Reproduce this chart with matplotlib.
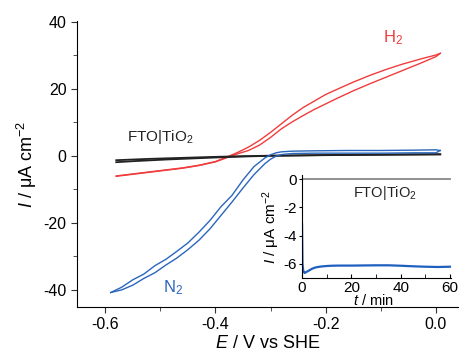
import matplotlib
matplotlib.use('Agg')
import matplotlib.pyplot as plt
from matplotlib.ticker import MultipleLocator

plt.rcParams['font.family'] = ['Liberation Sans', 'DejaVu Sans']
plt.rcParams['mathtext.fontset'] = 'custom'
plt.rcParams['mathtext.rm'] = 'Liberation Sans'
plt.rcParams['mathtext.it'] = 'Liberation Sans:italic'

# H2 cyclic voltammogram (two branches)
E_red = [-0.58, -0.55, -0.52, -0.49, -0.46, -0.43, -0.40, -0.38, -0.36, -0.34, -0.32,
         -0.30, -0.28, -0.26, -0.24, -0.22, -0.20, -0.18, -0.15, -0.12, -0.09, -0.06,
         -0.03, 0.0, 0.008]
I_red_fwd = [-6.1, -5.5, -4.9, -4.3, -3.7, -2.9, -1.8, -0.6, 0.6, 1.6, 3.2,
             5.5, 8.1, 10.2, 12.1, 13.9, 15.5, 17.1, 19.4, 21.5, 23.5, 25.5,
             27.5, 29.6, 30.6]
I_red_rev = [-6.0, -5.4, -4.8, -4.2, -3.6, -2.8, -1.7, -0.4, 1.0, 2.6, 4.6,
             7.0, 9.6, 12.2, 14.5, 16.4, 18.3, 19.8, 22.0, 24.0, 25.8, 27.4,
             28.8, 30.1, 30.6]

# FTO|TiO2 (dark)
E_blk = [-0.58, -0.55, -0.52, -0.49, -0.46, -0.43, -0.40, -0.35, -0.30, -0.20, -0.10, 0.0, 0.008]
I_blk_fwd = [-1.9, -1.6, -1.35, -1.1, -0.9, -0.7, -0.5, -0.2, 0.0, 0.2, 0.3, 0.4, 0.45]
I_blk_rev = [-1.3, -1.1, -0.9, -0.75, -0.6, -0.45, -0.3, -0.1, 0.05, 0.25, 0.4, 0.5, 0.45]

# N2 cyclic voltammogram (two branches)
E_blue = [-0.59, -0.57, -0.55, -0.53, -0.51, -0.49, -0.47, -0.45, -0.43, -0.41, -0.39,
          -0.37, -0.35, -0.33, -0.31, -0.30, -0.29, -0.28, -0.26, -0.22, -0.16, -0.10,
          -0.04, 0.0, 0.008]
I_blue_a = [-40.8, -39.2, -37.0, -35.3, -32.8, -30.9, -28.5, -26.0, -22.8, -19.3, -15.2,
            -11.8, -7.2, -3.2, -0.6, 0.3, 0.9, 1.2, 1.4, 1.5, 1.6, 1.6,
            1.7, 1.8, 1.6]
I_blue_b = [-40.8, -40.0, -38.6, -36.6, -34.9, -32.6, -30.5, -28.0, -25.2, -21.8, -17.8,
            -13.8, -9.6, -5.6, -2.3, -1.0, -0.1, 0.4, 0.7, 0.8, 0.8, 0.8,
            0.9, 0.9, 1.6]

# inset: photocurrent vs time
t_min = [0, 0.2, 0.5, 1, 1.5, 2, 3, 4, 5, 6, 8, 10, 12, 15, 20, 25, 30, 35, 40, 45, 50, 55, 60]
I_t = [-3.2, -6.0, -6.5, -6.64, -6.6, -6.55, -6.45, -6.35, -6.28, -6.23, -6.18, -6.15,
       -6.13, -6.12, -6.12, -6.11, -6.1, -6.1, -6.13, -6.17, -6.2, -6.22, -6.2]
t_dark = [0, 60]
I_dark = [0, 0]

red = '#f03c3c'
blue = '#2a66bd'

fig = plt.figure(figsize=(4.59, 3.59), dpi=100)
ax = fig.add_axes([0.168, 0.145, 0.832, 0.797])

ax.plot(E_red, I_red_fwd, color=red, lw=1.0)
ax.plot(E_red, I_red_rev, color=red, lw=1.0)
ax.plot(E_blk, I_blk_fwd, color='#222222', lw=1.3)
ax.plot(E_blk, I_blk_rev, color='#222222', lw=1.3)
ax.plot(E_blue, I_blue_a, color=blue, lw=1.0)
ax.plot(E_blue, I_blue_b, color=blue, lw=1.0)

ax.set_xlim(-0.651, 0.042)
ax.set_ylim(-45.1, 40.3)
ax.xaxis.set_minor_locator(MultipleLocator(0.1))
ax.yaxis.set_minor_locator(MultipleLocator(10))
ax.set_xticks([-0.6, -0.4, -0.2, 0.0])
ax.set_xticklabels(['-0.6', '-0.4', '-0.2', '0.0'])
ax.set_yticks([-40, -20, 0, 20, 40])
ax.set_yticklabels(['-40', '-20', '0', '20', '40'])
ax.spines['top'].set_visible(False)
ax.spines['right'].set_visible(False)
ax.tick_params(which='major', direction='out', length=4, labelsize=11.5, color='#333333')
ax.tick_params(which='minor', direction='out', length=3, color='#333333')
ax.set_xlabel(r'$\mathit{E}$ / V vs SHE', fontsize=13, labelpad=2)
ax.set_ylabel(r'$\mathit{I}$ / μA cm$^{-2}$', fontsize=13, labelpad=3)

ax.text(-0.078, 35.2, r'H$_2$', color=red, fontsize=12, ha='center', va='center')
ax.text(-0.5, 5.7, r'FTO|TiO$_2$', color='#222222', fontsize=11, ha='center', va='center')
ax.text(-0.476, -39.4, r'N$_2$', color=blue, fontsize=12, ha='center', va='center')

ins = fig.add_axes([0.658, 0.2256, 0.325, 0.287])
ins.plot(t_dark, I_dark, color='#888888', lw=1.3)
ins.plot(t_min, I_t, color='#1f5fbf', lw=1.6)
ins.set_xlim(0, 60.5)
ins.set_ylim(-7.0, 0.3)
ins.set_xticks([0, 20, 40, 60])
ins.xaxis.set_minor_locator(MultipleLocator(10))
ins.set_yticks([-6, -4, -2, 0])
ins.set_yticklabels(['-6', '-4', '-2', '0'])
ins.spines['top'].set_visible(False)
ins.spines['right'].set_visible(False)
ins.tick_params(axis='x', which='both', direction='in', length=3, labelsize=11, pad=2)
ins.tick_params(axis='y', which='both', direction='out', length=2.5, labelsize=11, pad=1)
ins.set_xlabel(r'$\mathit{t}$ / min', fontsize=10.5)
ins.xaxis.set_label_coords(0.48, -0.15)
ins.set_ylabel(r'$\mathit{I}$ / μA cm$^{-2}$', fontsize=11, labelpad=1)
ins.text(33.7, -1.0, r'FTO|TiO$_2$', fontsize=10.5, ha='center', va='center', color='#222222')
ins.patch.set_alpha(0)

fig.savefig('out.png', dpi=100)
